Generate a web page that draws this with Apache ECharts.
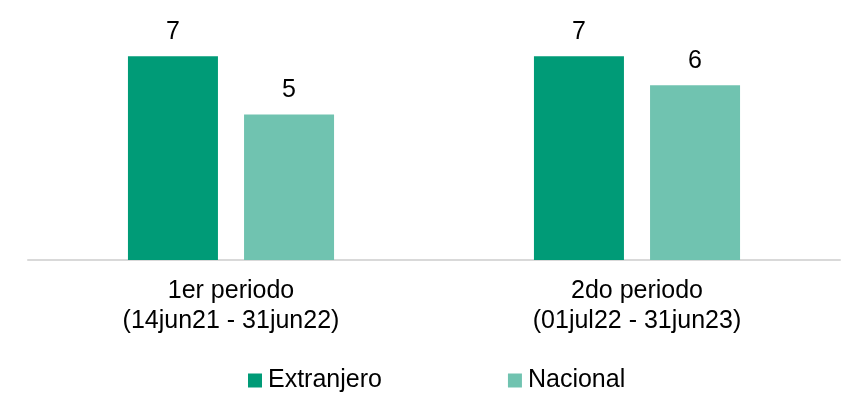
<!DOCTYPE html>
<html>
<head>
<meta charset="utf-8">
<script src="https://cdn.jsdelivr.net/npm/echarts@6/dist/echarts.min.js"></script>
<style>
html,body{margin:0;padding:0;background:#fff;}
#chart{width:864px;height:410px;}
</style>
</head>
<body>
<div id="chart"></div>
<script>
const categories = ['1er periodo\n(14jun21 - 31jun22)', '2do periodo\n(01jul22 - 31jun23)'];
const seriesNames = ['Extranjero', 'Nacional'];
const extranjero = [7, 7];
const nacional = [5, 6];

const FONT = '"Liberation Sans", Arial, sans-serif';
const chart = echarts.init(document.getElementById('chart'), null, {renderer: 'canvas'});
const label = {
  show: true, position: 'top', distance: 12,
  color: '#000', fontSize: 25, fontFamily: FONT
};
chart.setOption({
  animation: false,
  backgroundColor: '#fff',
  grid: {left: 28, right: 24, top: 27, bottom: 150, containLabel: false},
  xAxis: {
    type: 'category',
    data: categories,
    axisLine: {show: true, lineStyle: {color: '#d9d9d9', width: 2}},
    axisTick: {show: false},
    axisLabel: {color: '#000', fontSize: 25, fontFamily: FONT, lineHeight: 30, margin: 16}
  },
  yAxis: {
    type: 'value', min: 0, max: 8,
    show: false,
    splitLine: {show: false}
  },
  legend: {
    data: seriesNames,
    left: 248, top: 368, padding: 0,
    itemWidth: 14, itemHeight: 14, itemGap: 126,
    icon: 'rect',
    textStyle: {color: '#000', fontSize: 25, fontFamily: FONT, padding: [0, 0, 0, 1]}
  },
  series: [
    {name: seriesNames[0], type: 'bar', data: extranjero, barWidth: 90, barGap: '29%',
     itemStyle: {color: '#009B77'}, label: label},
    {name: seriesNames[1], type: 'bar', data: nacional, barWidth: 90,
     itemStyle: {color: '#70C3B0'}, label: label}
  ]
});
</script>
</body>
</html>
